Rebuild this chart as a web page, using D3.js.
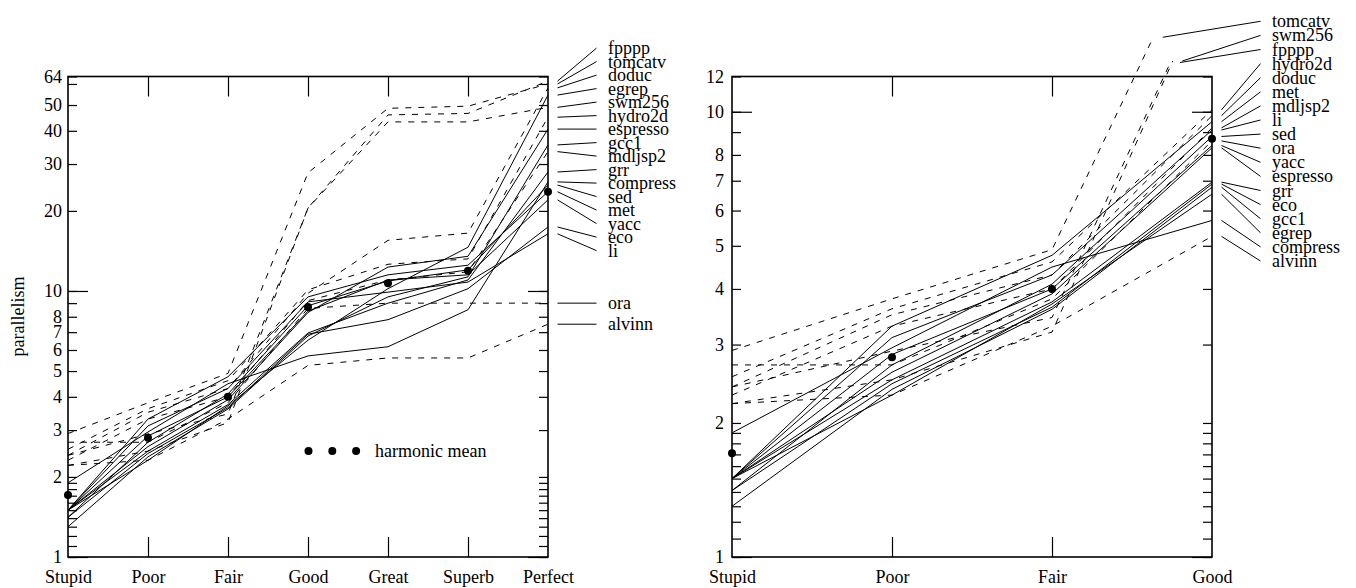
<!DOCTYPE html>
<html><head><meta charset="utf-8">
<script src="https://cdn.jsdelivr.net/npm/d3@7"></script>
<style>
body{margin:0;background:#fff}
svg{display:block}
text{font-family:"Liberation Serif","Times New Roman",serif;font-size:18px;fill:#000}
</style>
</head><body>
<svg id="chart" width="1356" height="588"></svg>
<script>
// ---------- DATA ----------
const categories = ["Stupid","Poor","Fair","Good","Great","Superb","Perfect"];

// dashed series (floating-point programs)
const tomcatv  = [2.91, 3.80, 4.9, 27.8, 48.6, 49.5, 60];
const fpppp    = [2.41, 2.9, 3.45, 20.5, 45.9, 46.5, 61.5];
const swm256   = [2.21, 2.5, 3.2, 20.5, 43.2, 43.2, 49];
const doduc    = [2.41, 3.5, 4.3, 9.8, 15.5, 16.5, 58];
const hydro2d  = [2.54, 3.61, 4.6, 10.1, 12.6, 13.2, 45];
const mdljsp2  = [2.31, 3.3, 4.0, 9.2, 11.0, 11.8, 33.4];
const ora      = [2.70, 2.70, 3.8, 8.6, 9.0, 9.0, 9.0];
const alvinn   = [2.21, 2.31, 3.3, 5.25, 5.6, 5.6, 7.5];
// solid series (integer programs)
const met      = [1.50, 3.30, 4.76, 9.5, 11.5, 12.5, 23.6];
const li       = [1.50, 3.11, 4.3, 9.1, 9.9, 10.8, 16.4];
const sed      = [1.41, 2.70, 4.1, 8.8, 10.9, 12.0, 25];
const yacc     = [1.50, 2.85, 4.0, 8.4, 11.0, 11.5, 22];
const espresso = [1.50, 2.60, 3.9, 8.3, 12.3, 13.5, 40.6];
const grr      = [1.50, 2.50, 3.74, 6.95, 9.0, 11.0, 28];
const eco      = [1.41, 2.45, 3.64, 6.88, 7.8, 10.2, 17.4];
const gcc1     = [1.30, 2.38, 3.6, 6.77, 9.5, 11.3, 35.4];
const egrep    = [1.50, 2.31, 3.7, 6.53, 10.2, 14.6, 54.5];
const compress = [1.90, 2.95, 4.48, 5.7, 6.17, 8.5, 25.7];

const harmonicMean = [1.71, 2.81, 4.0, 8.7, 10.7, 11.9, 23.6];

const dashedNames = ["tomcatv","fpppp","swm256","doduc","hydro2d","mdljsp2","ora","alvinn"];
const solidNames  = ["met","li","sed","yacc","espresso","grr","eco","gcc1","egrep","compress"];

// in the right-hand graph these lines are cut where they leave the plot
const cutSeries = ["tomcatv","swm256","fpppp"];
const cutValues = [14.7, 13.0, 12.9];

const minorTicks = [1.1,1.2,1.3,1.4,1.5,1.6,1.7,1.8,1.9,9];
const leftTickLabels  = [1,2,3,4,5,6,7,8,10,20,30,40,50,64];
const leftExtraTicks  = [60];
const rightTickLabels = [1,2,3,4,5,6,7,8,10,12];
const longTicks = [1,10];

// ---------- BUILD ----------
const valuesByName = {tomcatv,fpppp,swm256,doduc,hydro2d,mdljsp2,ora,alvinn,
  met,li,sed,yacc,espresso,grr,eco,gcc1,egrep,compress};
const series = dashedNames.map(n=>({name:n, dashed:true, values:valuesByName[n]}))
  .concat(solidNames.map(n=>({name:n, dashed:false, values:valuesByName[n]})));

const svg = d3.select("#chart");
const FONT = '"Liberation Serif","Times New Roman",serif';
const YB = 557, YT = 76.5;

function placeLabels(items, gap){
  const sorted = items.slice().sort((a,b)=>a.y-b.y);
  let clusters = sorted.map(d=>({items:[d], center:d.y}));
  let changed = true;
  while(changed){
    changed = false;
    for(let i=0;i<clusters.length-1;i++){
      const a=clusters[i], b=clusters[i+1];
      const aBot = a.center + (a.items.length-1)/2*gap;
      const bTop = b.center - (b.items.length-1)/2*gap;
      if(bTop - aBot < gap){
        const its = a.items.concat(b.items);
        clusters.splice(i,2,{items:its, center:d3.mean(its,d=>d.y)});
        changed = true; break;
      }
    }
  }
  clusters.forEach(c=>c.items.forEach((d,i)=>{ d.ly = c.center + (i-(c.items.length-1)/2)*gap; }));
}

function styleAxis(sel){
  sel.attr("font-family",FONT).attr("font-size",18);
  sel.select(".domain").remove();
  sel.selectAll("line").attr("stroke","#000").attr("stroke-width",1.2);
  sel.selectAll("text").attr("fill","#000");
}

function drawPanel(cfg){
  const cats = categories.slice(0,cfg.n);
  const x = d3.scalePoint().domain(cats).range([cfg.x0,cfg.x1]);
  const y = d3.scaleLog().base(2).domain([1,cfg.ymax]).range([YB,YT]);
  const g = svg.append("g");

  // y axis ticks + labels (left)
  const tv = minorTicks.concat(cfg.labels, cfg.extra).filter(v=>v<=cfg.ymax);
  g.append("g").attr("transform",`translate(${cfg.x0},0)`)
    .call(d3.axisLeft(y).tickValues(tv).tickSizeInner(-9).tickSizeOuter(0).tickPadding(cfg.pad)
      .tickFormat(v=>cfg.labels.includes(v)?String(v):""))
    .call(styleAxis);
  g.append("g").attr("transform",`translate(${cfg.x0},0)`)
    .call(d3.axisLeft(y).tickValues(longTicks).tickSizeInner(-20).tickSizeOuter(0).tickFormat(""))
    .call(styleAxis);
  // right side mirrored ticks
  g.append("g").attr("transform",`translate(${cfg.x1},0)`)
    .call(d3.axisRight(y).tickValues(tv).tickSizeInner(-9).tickSizeOuter(0).tickFormat(""))
    .call(styleAxis);
  g.append("g").attr("transform",`translate(${cfg.x1},0)`)
    .call(d3.axisRight(y).tickValues(longTicks).tickSizeInner(-20).tickSizeOuter(0).tickFormat(""))
    .call(styleAxis);
  // x ticks top/bottom (inner categories)
  const inner = cats.slice(1,-1);
  g.append("g").attr("transform",`translate(0,${YB})`)
    .call(d3.axisBottom(x).tickValues(inner).tickSizeInner(-20).tickSizeOuter(0).tickFormat(""))
    .call(styleAxis);
  g.append("g").attr("transform",`translate(0,${YT})`)
    .call(d3.axisTop(x).tickValues(inner).tickSizeInner(-20).tickSizeOuter(0).tickFormat(""))
    .call(styleAxis);
  // x labels
  g.append("g").attr("transform",`translate(0,${YB})`)
    .call(d3.axisBottom(x).tickSize(0).tickPadding(13))
    .call(styleAxis);

  // frame
  g.append("rect").attr("x",cfg.x0).attr("y",YT).attr("width",cfg.x1-cfg.x0).attr("height",YB-YT)
    .attr("fill","none").attr("stroke","#000").attr("stroke-width",1.6);

  // lines
  const line = d3.line();
  const ends = [];
  series.forEach(s=>{
    let pts = s.values.slice(0,cfg.n).map((v,i)=>[x(cats[i]), y(v)]);
    const ci = cutSeries.indexOf(s.name);
    if(cfg.cut && ci>=0){
      const p1 = pts[pts.length-2], p2 = pts[pts.length-1];
      const yc = y(cutValues[ci]);
      const t = (p1[1]-yc)/(p1[1]-p2[1]);
      pts[pts.length-1] = [p1[0]+t*(p2[0]-p1[0]), yc];
    }
    g.append("path").attr("d",line(pts)).attr("fill","none").attr("stroke","#000")
      .attr("stroke-width",1).attr("stroke-dasharray",s.dashed?"6,7":null);
    const last = pts[pts.length-1];
    ends.push({name:s.name, x:last[0], y:last[1]});
  });

  // harmonic mean dots
  g.selectAll("circle.hm").data(harmonicMean.slice(0,cfg.n)).join("circle")
    .attr("cx",(d,i)=>x(cats[i])).attr("cy",d=>y(d)).attr("r",4).attr("fill","#000");

  // labels with leader lines
  placeLabels(ends, cfg.gap);
  ends.forEach(d=>{
    g.append("line").attr("x1",d.x+9.5).attr("y1",d.y).attr("x2",cfg.x1+48.5).attr("y2",d.ly)
      .attr("stroke","#000").attr("stroke-width",1);
    g.append("text").attr("x",cfg.x1+60).attr("y",d.ly+6).text(d.name);
  });
  return {x,y,g};
}

const L = drawPanel({n:7, x0:68, x1:548, ymax:64, labels:leftTickLabels, extra:leftExtraTicks, pad:6, gap:13.5, cut:false});
drawPanel({n:4, x0:732, x1:1212, ymax:12, labels:rightTickLabels, extra:[], pad:8, gap:14.1, cut:true});

// y-axis title
svg.append("text").attr("transform","translate(24,316.5) rotate(-90)").attr("text-anchor","middle").text("parallelism");

// legend
const legendDots = [0,1,2];
const lg = svg.append("g");
lg.selectAll("circle").data(legendDots).join("circle")
  .attr("cx",d=>308.5+d*23.8).attr("cy",451).attr("r",4).attr("fill","#000");
lg.append("text").attr("x",375).attr("y",457).text("harmonic mean");
</script>
</body></html>
